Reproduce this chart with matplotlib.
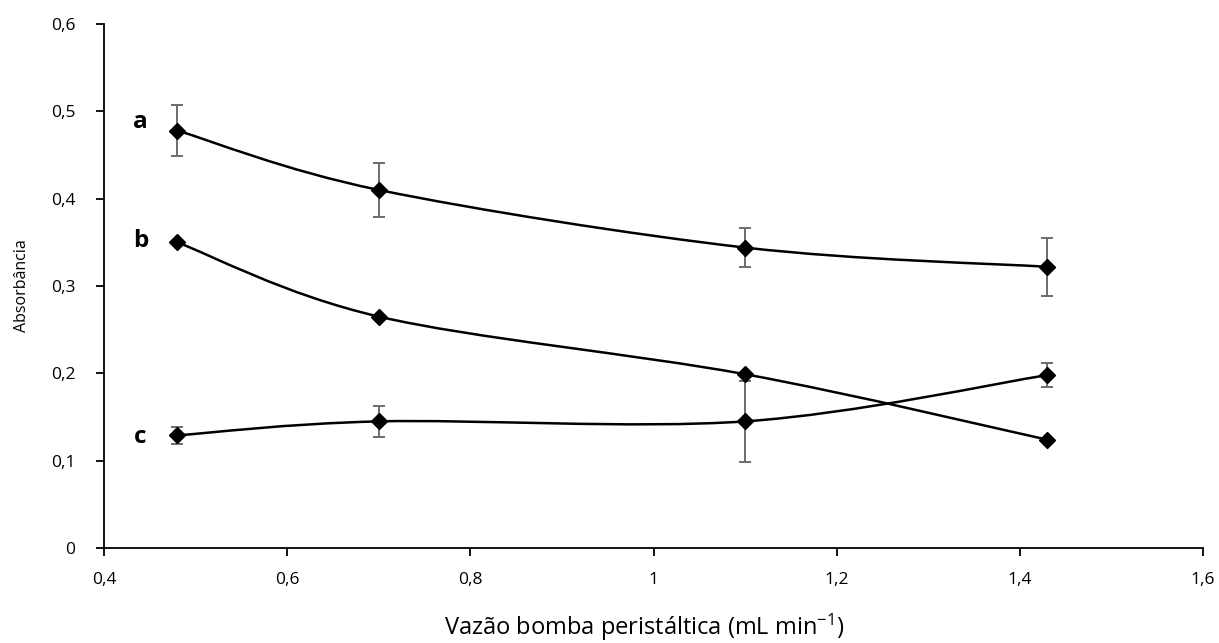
import numpy as np
import matplotlib.pyplot as plt
from matplotlib.path import Path
from matplotlib.patches import PathPatch

plt.rcParams['font.family'] = ['Open Sans', 'DejaVu Sans']
plt.rcParams['mathtext.fontset'] = 'custom'
plt.rcParams['mathtext.rm'] = 'Open Sans'
plt.rcParams['mathtext.default'] = 'regular'

# flow rate (mL/min)
vazao = [0.48, 0.70, 1.10, 1.43]

# series a, b, c (absorbance) and their standard deviations
abs_a = [0.478, 0.410, 0.344, 0.322]
err_a = [0.029, 0.031, 0.022, 0.033]
abs_b = [0.350, 0.265, 0.199, 0.124]
abs_c = [0.129, 0.145, 0.145, 0.198]
err_c = [0.010, 0.018, 0.046, 0.014]

labels = ['a', 'b', 'c']
label_y = [0.488, 0.352, 0.127]


def smooth_path(x, y):
    # excel-style smoothed line: bezier with catmull-rom control points
    pts = np.column_stack([x, y])
    n = len(pts)
    verts = [pts[0]]
    codes = [Path.MOVETO]
    for i in range(n - 1):
        p0 = pts[max(i - 1, 0)]
        p1 = pts[i]
        p2 = pts[i + 1]
        p3 = pts[min(i + 2, n - 1)]
        c1 = p1 + (p2 - p0) / 6.0
        c2 = p2 - (p3 - p1) / 6.0
        verts += [c1, c2, p2]
        codes += [Path.CURVE4] * 3
    return Path(verts, codes)


fig = plt.figure(figsize=(12.19, 6.43), dpi=100)
ax = fig.add_axes([0.0853, 0.1477, 0.9016, 0.8150])

for ys in (abs_a, abs_b, abs_c):
    ax.add_patch(PathPatch(smooth_path(vazao, ys), fill=False,
                           edgecolor='black', lw=1.8, zorder=3))

ecol = '#6d6d6d'
ax.errorbar(vazao, abs_a, yerr=err_a, fmt='none', ecolor=ecol,
            elinewidth=1.4, capsize=4.3, capthick=1.4, zorder=2)
ax.errorbar(vazao, abs_c, yerr=err_c, fmt='none', ecolor=ecol,
            elinewidth=1.4, capsize=4.3, capthick=1.4, zorder=2)

for ys in (abs_a, abs_b, abs_c):
    ax.plot(vazao, ys, linestyle='none', marker='D', markersize=8,
            color='black', zorder=4)

for lab, ly in zip(labels, label_y):
    ax.text(0.44, ly, lab, fontsize=17.5, fontweight='bold',
            ha='center', va='center')

ax.set_xlim(0.4, 1.6)
ax.set_ylim(0, 0.6)
ax.set_xticks(np.arange(0.4, 1.61, 0.2))
ax.set_yticks(np.arange(0, 0.61, 0.1))
fmt = lambda v: ('%g' % round(v, 1)).replace('.', ',')
ax.set_xticklabels([fmt(v) for v in ax.get_xticks()])
ax.set_yticklabels([fmt(v) for v in ax.get_yticks()])

for s in ('top', 'right'):
    ax.spines[s].set_visible(False)
for s in ('left', 'bottom'):
    ax.spines[s].set_linewidth(1.3)
ax.tick_params(direction='out', length=6, width=1.3, labelsize=12.5)
ax.tick_params(axis='y', pad=14.5)
ax.tick_params(axis='x', pad=11.5)

ax.set_ylabel('Absorbância', fontsize=11.5, labelpad=15)
ax.set_xlabel('Vazão bomba peristáltica (mL min$^{-1}$)', fontsize=17, labelpad=16)
ax.xaxis.set_label_coords(0.492, -0.122)

fig.savefig('out.png', dpi=100)
